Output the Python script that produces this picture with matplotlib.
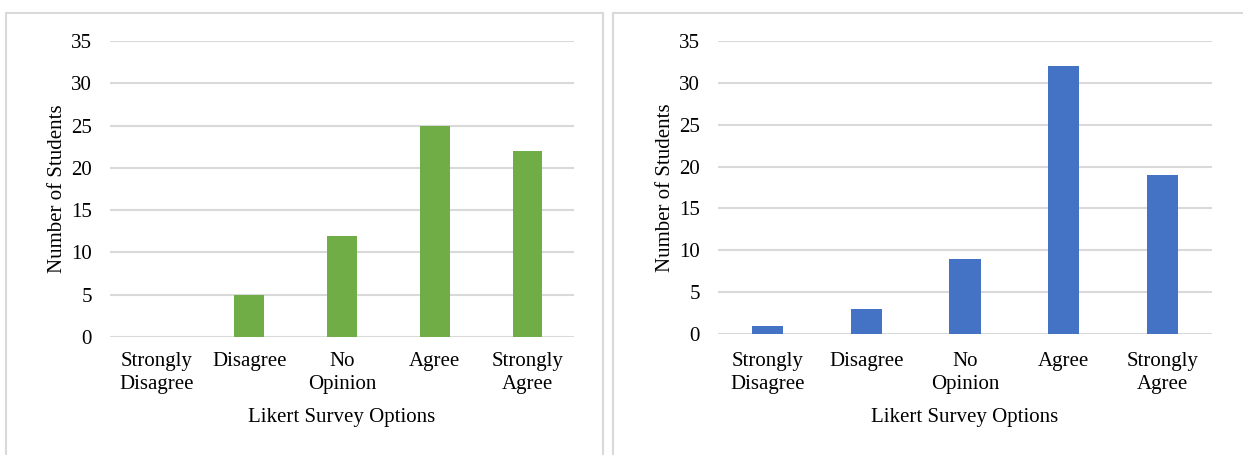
import matplotlib.pyplot as plt
from matplotlib.patches import Rectangle

options = ["Strongly\nDisagree", "Disagree", "No\nOpinion", "Agree", "Strongly\nAgree"]
left_counts = [0, 5, 12, 25, 22]
right_counts = [1, 3, 9, 32, 19]
y_ticks = [0, 5, 10, 15, 20, 25, 30, 35]

plt.rcParams['font.family'] = ['Liberation Serif', 'DejaVu Serif']
plt.rcParams['font.size'] = 15

W, H = 1243, 455
fig = plt.figure(figsize=(W / 100, H / 100), dpi=100)

# panel frames, like the two chart boxes in the source document
for x0, x1 in [(6, 603), (613, 1250)]:
    fig.patches.append(Rectangle((x0 / W, -0.1), (x1 - x0) / W, 1.1 - 13 / H,
                                 transform=fig.transFigure, fill=False,
                                 edgecolor="#d9d9d9", linewidth=1.5))

def draw(rect, counts, colour, width, xpad):
    ax = fig.add_axes(rect)
    ax.bar(range(len(options)), counts, width=width, color=colour, zorder=3)
    ax.set_xlim(-0.5, len(options) - 0.5)
    ax.set_ylim(0, 35)
    ax.set_yticks(y_ticks)
    ax.set_xticks(range(len(options)))
    ax.set_xticklabels(options, linespacing=1.3)
    ax.grid(axis="y", color="#d9d9d9", linewidth=1.5, zorder=0)
    for s in ax.spines.values():
        s.set_visible(False)
    ax.tick_params(axis="both", length=0)
    ax.tick_params(axis="y", pad=13)
    ax.tick_params(axis="x", pad=xpad)
    ax.set_ylabel("Number of Students", labelpad=3)
    ax.set_xlabel("Likert Survey Options", labelpad=10)
    return ax

draw([110 / W, 1 - 337 / H, 464 / W, 296 / H], left_counts, "#70ad47", 0.32, 11)
draw([718 / W, 1 - 334 / H, 494 / W, 293 / H], right_counts, "#4472c4", 0.315, 13)

fig.savefig("out.png", dpi=100)
